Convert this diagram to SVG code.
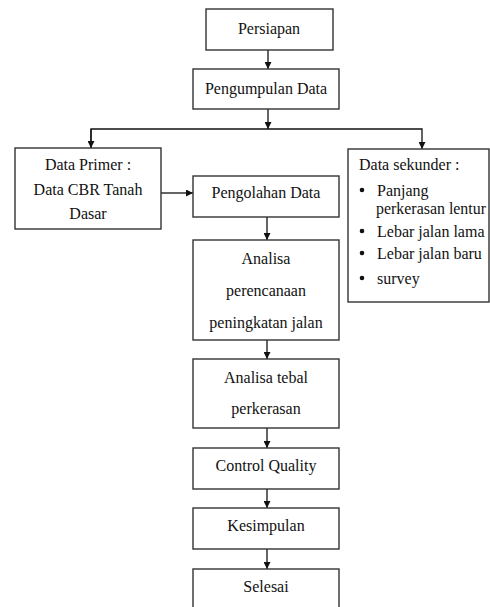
<svg xmlns="http://www.w3.org/2000/svg" width="490" height="607" viewBox="0 0 490 607">
<style>
.box{fill:#fff;stroke:#333;stroke-width:1.4}
.t{font-family:"Liberation Serif","Times New Roman",serif;font-size:16px;fill:#111}
.c{text-anchor:middle}
.ln{fill:none;stroke:#111;stroke-width:1.3}
</style>
<defs>
<marker id="ah" viewBox="0 0 10 10" refX="10" refY="5" markerWidth="7" markerHeight="7" markerUnits="userSpaceOnUse" orient="auto">
<path d="M0,0 L10,5 L0,10 z" fill="#111"/>
</marker>
</defs>
<rect width="490" height="607" fill="#fff"/>
<g id="connectors">
<line class="ln" x1="268" y1="50" x2="268" y2="69" marker-end="url(#ah)"/>
<line class="ln" x1="268" y1="109" x2="268" y2="129" marker-end="url(#ah)"/>
<polyline class="ln" points="91,148 91,129 422,129 422,149" marker-end="url(#ah)"/>
<line class="ln" x1="91" y1="129" x2="91" y2="148" marker-end="url(#ah)"/>
<line class="ln" x1="161" y1="193" x2="193" y2="193" marker-end="url(#ah)"/>
<line class="ln" x1="267" y1="217" x2="267" y2="240" marker-end="url(#ah)"/>
<line class="ln" x1="267" y1="340" x2="267" y2="359" marker-end="url(#ah)"/>
<line class="ln" x1="267" y1="428" x2="267" y2="448" marker-end="url(#ah)"/>
<line class="ln" x1="267" y1="489" x2="267" y2="508" marker-end="url(#ah)"/>
<line class="ln" x1="267" y1="549" x2="267" y2="569" marker-end="url(#ah)"/>
</g>
<g id="persiapan"><rect class="box" x="206" y="9" width="127" height="41"/><text class="t c" x="269" y="34">Persiapan</text></g>
<g id="pengumpulan"><rect class="box" x="193" y="69" width="146" height="40"/><text class="t c" x="266" y="94">Pengumpulan Data</text></g>
<g id="primer"><rect class="box" x="15" y="148" width="146" height="81"/>
<text class="t c" x="88" y="170">Data Primer :</text>
<text class="t c" x="88" y="195">Data CBR Tanah</text>
<text class="t c" x="88" y="219">Dasar</text></g>
<g id="sekunder"><rect class="box" x="348" y="149" width="141" height="153"/>
<text class="t" x="359" y="170">Data sekunder :</text>
<g class="t">
<circle cx="362" cy="190" r="2.3" fill="#111"/><text x="377" y="196">Panjang</text>
<text x="376" y="214" textLength="110" lengthAdjust="spacingAndGlyphs">perkerasan lentur</text>
<circle cx="362" cy="231" r="2.3" fill="#111"/><text x="377" y="237">Lebar jalan lama</text>
<circle cx="362" cy="253" r="2.3" fill="#111"/><text x="377" y="259">Lebar jalan baru</text>
<circle cx="362" cy="278" r="2.3" fill="#111"/><text x="377" y="284">survey</text>
</g></g>
<g id="pengolahan"><rect class="box" x="193" y="176" width="146" height="41"/><text class="t c" x="266" y="198">Pengolahan Data</text></g>
<g id="analisa-perencanaan"><rect class="box" x="193" y="240" width="146" height="100"/>
<text class="t c" x="266" y="264">Analisa</text>
<text class="t c" x="266" y="296">perencanaan</text>
<text class="t c" x="266" y="328">peningkatan jalan</text></g>
<g id="analisa-tebal"><rect class="box" x="193" y="359" width="146" height="69"/>
<text class="t c" x="266" y="383">Analisa tebal</text>
<text class="t c" x="266" y="414">perkerasan</text></g>
<g id="control"><rect class="box" x="193" y="448" width="146" height="41"/><text class="t c" x="266" y="471">Control Quality</text></g>
<g id="kesimpulan"><rect class="box" x="193" y="508" width="146" height="41"/><text class="t c" x="266" y="531">Kesimpulan</text></g>
<g id="selesai"><rect class="box" x="193" y="569" width="146" height="50"/><text class="t c" x="266" y="592">Selesai</text></g>
</svg>
